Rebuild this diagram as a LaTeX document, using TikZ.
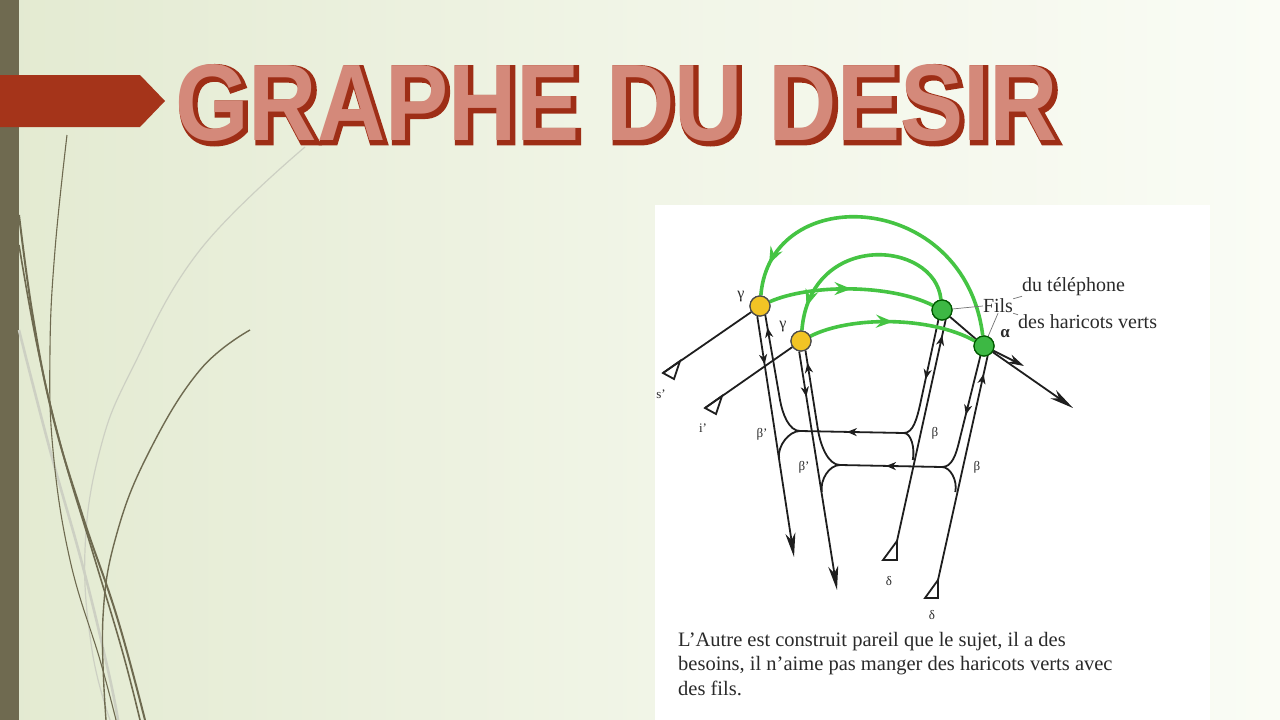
\documentclass[tikz,border=0pt]{standalone}
\usepackage{fontspec}
\setmainfont{Liberation Serif}
\newfontfamily\titlefont{Liberation Sans}
\newfontfamily\titleoutline{Liberation Sans}[BoldFeatures={FakeBold=5}]
\usetikzlibrary{arrows.meta,decorations.markings}
\definecolor{bgL}{HTML}{E3EAD1}
\definecolor{bgR}{HTML}{FAFCF5}
\definecolor{barcol}{HTML}{6F6A50}
\definecolor{arrowred}{HTML}{A5341A}
\definecolor{titledark}{HTML}{9E2E16}
\definecolor{titlefill}{HTML}{D4897A}
\definecolor{grn}{HTML}{45C443}
\definecolor{dotyellow}{HTML}{F2C425}
\definecolor{dotgreen}{HTML}{3DB844}
\definecolor{ink}{HTML}{1E1E1E}
\definecolor{txt}{HTML}{2A2A2A}
\definecolor{swdark}{HTML}{6E6A50}
\definecolor{swlight}{HTML}{CDD0C3}
\tikzset{
  blk/.style={draw=ink, line width=1.8pt},
  grnl/.style={draw=grn, line width=3.6pt},
  tipend/.style={-{Stealth[length=24pt,width=10pt,inset=7pt]}},
  tipmid/.style={-{Stealth[length=16pt,width=9pt,inset=5pt]}},
  midarr/.style={postaction={decorate}, decoration={markings, mark=at position #1 with {\arrow{Stealth[length=10pt,width=8pt,inset=3pt]}}}},
  midarrg/.style={postaction={decorate}, decoration={markings, mark=at position #1 with {\arrow[grn]{Stealth[length=17pt,width=13pt,inset=6pt]}}}},
  ydot/.style={circle, fill=dotyellow, draw=ink!80, line width=1.2pt, minimum size=20pt, inner sep=0pt},
  gdot/.style={circle, fill=dotgreen, draw=black!65!green, line width=1.2pt, minimum size=20pt, inner sep=0pt},
  lbl/.style={text=txt, inner sep=0pt, font=\fontsize{20}{22}\selectfont},
  small/.style={text=txt, inner sep=0pt, font=\fontsize{13}{14}\selectfont},
  thin/.style={draw=black!55, line width=0.7pt},
}
\begin{document}
\begin{tikzpicture}[x=1pt,y=-1pt]
\useasboundingbox (0,0) rectangle (1280,720);
% background
\fill[left color=bgL, right color=bgR, middle color=bgR!60!bgL] (0,0) rectangle (1280,720);
\fill[barcol] (0,0) rectangle (19,720);
% decorative swooshes
\draw[swlight, line width=1.2pt] plot[smooth, tension=0.7] coordinates {(305,147) (200,250) (133,367) (100,450) (85,550) (92,650) (110,720)};
\draw[swlight, line width=2.6pt] plot[smooth, tension=0.7] coordinates {(19,330) (50,450) (83,567) (108,670) (118,720)};
\draw[swdark, line width=1.1pt] plot[smooth, tension=0.7] coordinates {(67,135) (55,250) (50,350) (53,450) (70,560) (100,660) (116,720)};
\draw[swdark, line width=2pt] plot[smooth, tension=0.7] coordinates {(19,215) (33,317) (53,417) (83,517) (117,617) (145,720)};
\draw[swdark, line width=1.6pt] plot[smooth, tension=0.7] coordinates {(19,245) (38,350) (62,450) (92,550) (122,650) (140,720)};
\draw[swdark, line width=1.4pt] plot[smooth, tension=0.7] coordinates {(250,330) (200,370) (150,450) (117,533) (103,617) (106,720)};
% title arrow
\fill[arrowred] (0,75) -- (140,75) -- (165,101) -- (140,127) -- (0,127) -- cycle;
% title
\node[anchor=north west, inner sep=0pt, text=titledark] (titleshadow) at (177.5,66.5)
  {\resizebox{883pt}{76pt}{\fontsize{106}{110}\selectfont\titleoutline\bfseries GRAPHE DU DESIR}};
\node[anchor=north west, inner sep=0pt, text=titlefill] (title) at (175,64)
  {\resizebox{883pt}{76pt}{\fontsize{106}{110}\selectfont\titlefont\bfseries GRAPHE DU DESIR}};
% image panel
\fill[white] (655,205) rectangle (1210,720);

% nodes
\node[ydot] (Y1) at (760,306) {};
\node[ydot] (Y2) at (801,341) {};
\node[gdot] (G1) at (942,310) {};
\node[gdot] (G2) at (984,346) {};

\coordinate (S0) at (663,373);
\coordinate (I0) at (705,408);
\coordinate (H1L) at (800,431);
\coordinate (H1R) at (904,433);
\coordinate (H2L) at (840,465);
\coordinate (H2R) at (942,467);
\coordinate (A1) at (794,557);
\coordinate (A2) at (837,590);
\coordinate (T1) at (897,541);
\coordinate (T2) at (938,580);
\coordinate (O1) at (1024,366);
\coordinate (O2) at (1073,408);

% black lines
\draw[blk, fill=white] (S0) -- ++(17,-12) -- ++(-6,18) -- cycle;
\draw[blk, fill=white] (I0) -- ++(17,-12) -- ++(-6,18) -- cycle;
\draw[blk] (S0) -- (Y1);
\draw[blk] (I0) -- (Y2);
% from Y1
\draw[blk, tipend, midarr=0.2] (Y1.255) -- (A1);
\draw[blk, midarr=0.9] (H1L) .. controls (789,431) and (782.5,414) .. (780,400) -- (Y1.300);
\draw[blk] (H1L) .. controls (789,431) and (777.3,446) .. (779.1,458);
% from Y2
\draw[blk, tipend, midarr=0.19] (Y2.260) -- (A2);
\draw[blk, midarr=0.9] (H2L) .. controls (828,465) and (820.4,445) .. (818,430) -- (Y2.295);
\draw[blk] (H2L) .. controls (829,465) and (819.9,480) .. (821.8,492);
% horizontals
\draw[blk, midarr=0.55] (H1R) -- (H1L);
\draw[blk, midarr=0.55] (H2R) -- (H2L);
% from G1
\draw[blk, midarr=0.5] (G1.250) -- (920,405) .. controls (916.8,419) and (913,433) .. (H1R);
\draw[blk, midarr=0.93] (T1) -- (G1.290);
\draw[blk] (H1R) .. controls (911,433) and (915.1,448) .. (912.8,460);
\draw[blk, fill=white] (T1) -- ++(0,19) -- ++(-14,0) -- cycle;
% from G2
\draw[blk, midarr=0.5] (G2.250) -- (959.5,440) .. controls (956,455) and (952,467) .. (H2R);
\draw[blk, midarr=0.92] (T2) -- (G2.290);
\draw[blk] (H2R) .. controls (950,467) and (957.7,480) .. (955.3,492);
\draw[blk, fill=white] (T2) -- ++(0,18) -- ++(-13,0) -- cycle;
% chain to the right
\draw[blk] (G1) -- (G2);
\draw[blk, tipmid] (G2) -- (O1);
\draw[blk, tipend] (G2) -- (O2);

% green lines
\draw[grnl, midarrg=0.5] (Y1) .. controls (810,284) and (890,284) .. (G1);
\draw[grnl, midarrg=0.5] (Y2) .. controls (850,316) and (930,316) .. (G2);
\draw[grnl, midarrg=0.9] (G2) .. controls (965,190) and (770,180) .. (Y1);
\draw[grnl, midarrg=0.88] (G1) .. controls (935,240) and (810,230) .. (Y2);

% redraw dots on top
\node[ydot] at (Y1) {};
\node[ydot] at (Y2) {};
\node[gdot] at (G1) {};
\node[gdot] at (G2) {};

% labels
\node[lbl, font=\fontsize{16}{17}\selectfont] (gam1) at (741,297) {γ};
\node[lbl, font=\fontsize{16}{17}\selectfont] (gam2) at (783,327) {γ};
\node[lbl, font=\fontsize{17}{18}\selectfont\bfseries] (alp) at (1005,334) {α};
\node[small] (sp) at (661,394) {s'};
\node[small] (ip) at (703,428) {i'};
\node[small] (bp1) at (762,434) {β'};
\node[small] (bp2) at (804,467) {β'};
\node[small] (b1) at (935,433) {β};
\node[small] (b2) at (977,467) {β};
\node[small] (d1) at (889,581) {δ};
\node[small] (d2) at (932,615) {δ};

\node[lbl] (fils) at (998,306) {Fils};
\node[lbl, anchor=west] (dutel) at (1022,287) {du téléphone};
\node[lbl, anchor=west] (haric) at (1018,322) {des haricots verts};
\draw[thin] (G1) -- (fils.west);
\draw[thin] (fils.north east) -- (dutel.south west);
\draw[thin] (fils.south east) -- (haric.north west);
\draw[thin] (G2) -- (fils.south);

\node[lbl, anchor=north west, align=left, font=\fontsize{20.5}{24.5}\selectfont] (caption) at (678,632)
  {L'Autre est construit pareil que le sujet, il a des\\besoins, il n'aime pas manger des haricots verts avec\\des fils.};
\end{tikzpicture}
\end{document}
